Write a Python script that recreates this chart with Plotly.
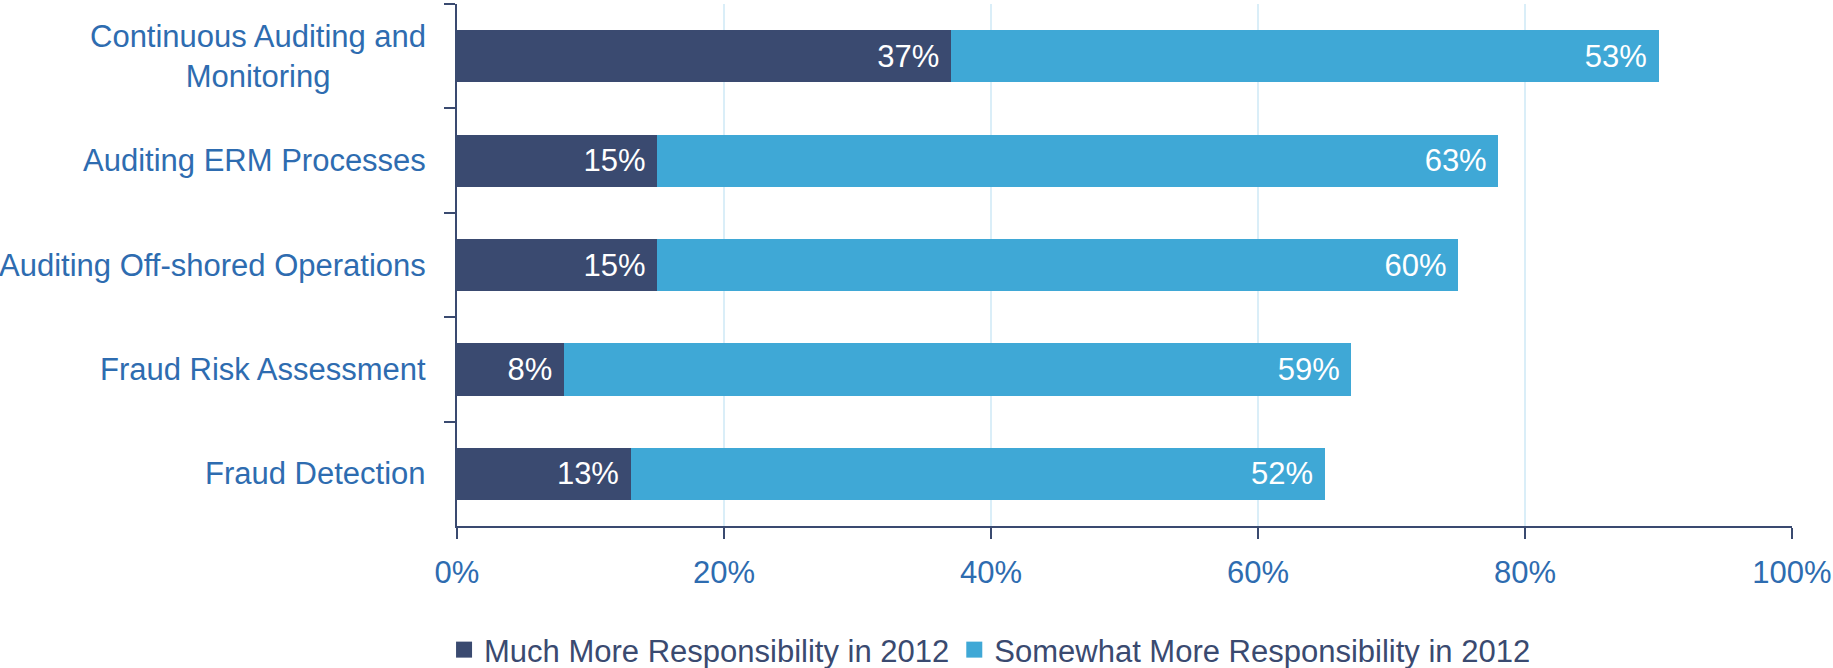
import plotly.graph_objects as go

categories = ["Continuous Auditing and<br>Monitoring", "Auditing ERM Processes",
              "Auditing Off-shored Operations", "Fraud Risk Assessment", "Fraud Detection"]
much_more = [37, 15, 15, 8, 13]
somewhat_more = [53, 63, 60, 59, 52]
series_names = ["Much More Responsibility in 2012", "Somewhat More Responsibility in 2012"]
x_ticks = [0, 20, 40, 60, 80, 100]

DARK = "#3A4A70"
LIGHT = "#3FA8D6"
LABEL_BLUE = "#2E6CB0"
FONT = "Liberation Sans, Arial, sans-serif"
FS = 31

fig = go.Figure()
series = [(series_names[0], much_more, DARK), (series_names[1], somewhat_more, LIGHT)]
for name, vals, col in series:
    fig.add_trace(go.Bar(
        y=categories, x=vals, name=name, orientation="h", showlegend=False,
        marker=dict(color=col, line=dict(width=0)),
        text=[f"{v}%\u00a0" for v in vals], textposition="inside", insidetextanchor="end",
        textfont=dict(color="white", size=FS, family=FONT),
    ))
# legend-only entries with larger square swatches
for name, vals, col in series:
    fig.add_trace(go.Scatter(
        x=[None], y=[None], mode="markers", name=name,
        marker=dict(symbol="square", size=16, color=col),
    ))

for c in categories:
    fig.add_annotation(x=0, xref="paper", y=c, yref="y", text=c, showarrow=False,
                       xanchor="right", yanchor="middle", xshift=-29, align="center",
                       font=dict(size=FS, color=LABEL_BLUE, family=FONT))

fig.update_layout(
    barmode="stack", bargap=0.5,
    width=1833, height=668,
    margin=dict(l=457, r=41, t=4, b=142, autoexpand=False),
    plot_bgcolor="white", paper_bgcolor="white",
    font=dict(family=FONT),
    showlegend=True,
    legend=dict(orientation="h", x=-0.0097, xanchor="left", y=-0.2375, yanchor="middle",
                font=dict(size=FS, color=DARK, family=FONT), traceorder="normal",
                itemwidth=30, bgcolor="rgba(0,0,0,0)"),
    xaxis=dict(range=[0, 100], tickvals=x_ticks, ticktext=[f"{t}%" for t in x_ticks],
               showgrid=True, gridcolor="#DAEEF8", gridwidth=2,
               showline=True, linecolor=DARK, linewidth=2,
               ticks="outside", ticklen=11, tickwidth=2, tickcolor=DARK,
               ticklabelstandoff=7,
               tickfont=dict(size=FS, color=LABEL_BLUE, family=FONT), zeroline=False),
    yaxis=dict(categoryorder="array", categoryarray=categories, autorange="reversed",
               showticklabels=False, showline=True, linecolor=DARK, linewidth=2,
               ticks="outside", ticklen=11, tickwidth=2, tickcolor=DARK,
               tickson="boundaries", showgrid=False),
)

fig.write_html("out.html", config={"displayModeBar": False},
               post_script="document.body.style.margin='0';")
